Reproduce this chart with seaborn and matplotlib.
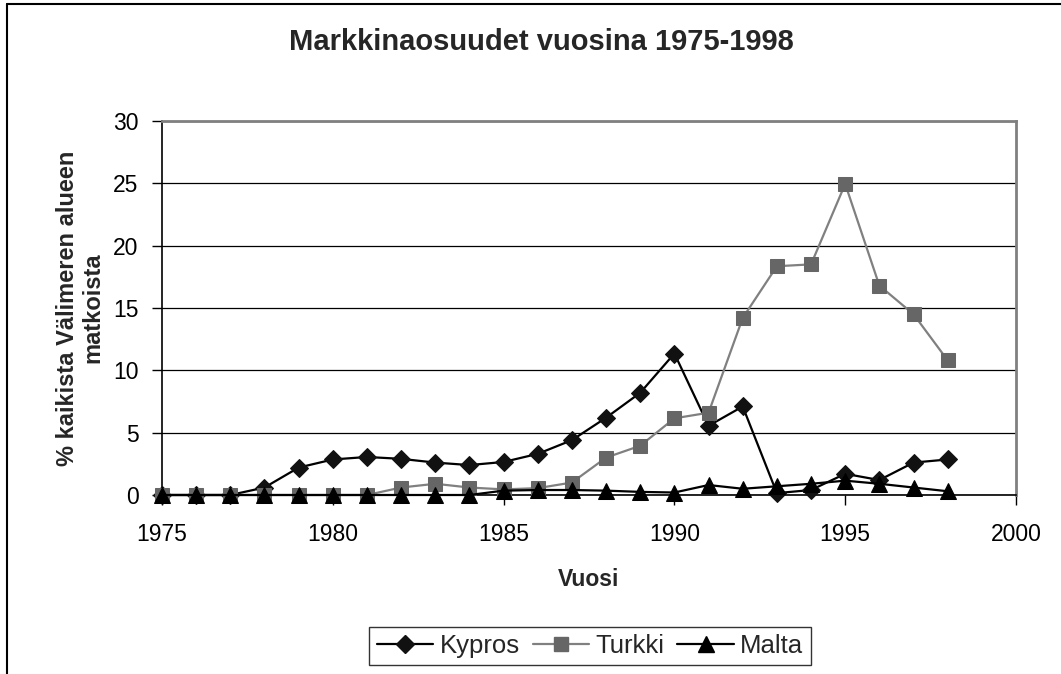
import matplotlib
matplotlib.use("Agg")
import matplotlib.pyplot as plt
from matplotlib.lines import Line2D
import seaborn as sns
import pandas as pd

years = list(range(1975, 1999))
kypros = [0, 0, 0, 0.6, 2.2, 2.85, 3.05, 2.9, 2.6, 2.4, 2.65, 3.3,
          4.4, 6.2, 8.2, 11.35, 5.55, 7.1, 0.15, 0.4, 1.7, 1.2, 2.6, 2.85]
turkki = [0, 0, 0, 0, 0, 0, 0, 0.6, 0.9, 0.6, 0.45, 0.55,
          1.0, 3.0, 3.95, 6.15, 6.6, 14.2, 18.35, 18.5, 24.95, 16.8, 14.5, 10.8]
malta = [0, 0, 0, 0, 0, 0, 0, 0, 0, 0, 0.35, 0.4,
         0.4, 0.35, 0.25, 0.2, 0.8, 0.5, 0.7, 0.9, 1.15, 0.9, 0.6, 0.3]
series_names = ["Kypros", "Turkki", "Malta"]
x_ticks = [1975, 1980, 1985, 1990, 1995, 2000]
y_ticks = [0, 5, 10, 15, 20, 25, 30]

sns.set_theme(style="white")
plt.rcParams["font.family"] = ["Liberation Sans", "DejaVu Sans"]

df = pd.DataFrame({"Vuosi": years, "Kypros": kypros, "Turkki": turkki, "Malta": malta})

fig = plt.figure(figsize=(10.61, 6.74), dpi=100)
ax = fig.add_axes([162 / 1061, 1 - 495 / 674, (1016 - 162) / 1061, (495 - 121) / 674])

styles = {
    "Kypros": dict(color="black", marker="D", markersize=9, mfc="#111111", mec="#111111"),
    "Turkki": dict(color="#808080", marker="s", markersize=9.5, mfc="#666666", mec="#666666"),
    "Malta": dict(color="black", marker="^", markersize=11, mfc="black", mec="black"),
}

for name in series_names:
    st = styles[name]
    sns.lineplot(data=df, x="Vuosi", y=name, ax=ax, color=st["color"], linewidth=1.6,
                 marker=st["marker"], markersize=st["markersize"],
                 markerfacecolor=st["mfc"], markeredgecolor=st["mec"],
                 clip_on=False, zorder=3, label=name, legend=False)

ax.set_xlim(1975, 2000)
ax.set_ylim(0, 30)
ax.set_xticks(x_ticks)
ax.set_yticks(y_ticks)
ax.tick_params(axis="both", labelsize=16.5, colors="black", length=7, width=1,
               direction="out", bottom=True, left=True)
ax.tick_params(axis="x", pad=13)
ax.tick_params(axis="y", pad=10)
ax.yaxis.grid(True, color="black", linewidth=0.9)
ax.xaxis.grid(False)
ax.set_axisbelow(True)

for side in ["top", "right"]:
    ax.spines[side].set_color("#808080")
    ax.spines[side].set_linewidth(2)
for side in ["left", "bottom"]:
    ax.spines[side].set_color("black")
    ax.spines[side].set_linewidth(1.2)

ax.set_xlabel("Vuosi", fontsize=16.5, fontweight="bold", labelpad=16)
ax.set_ylabel("% kaikista Välimeren alueen\nmatkoista", fontsize=17, fontweight="bold",
              labelpad=6, linespacing=1.15)

fig.text(541 / 1061, 1 - 42 / 674, "Markkinaosuudet vuosina 1975-1998",
         ha="center", va="center", fontsize=21, fontweight="bold")

handles = [Line2D([], [], color=styles[n]["color"], linewidth=1.6, marker=styles[n]["marker"],
                  markersize=styles[n]["markersize"], markerfacecolor=styles[n]["mfc"],
                  markeredgecolor=styles[n]["mec"]) for n in series_names]
leg = fig.legend(handles, series_names, loc="center", bbox_to_anchor=(590 / 1061, 1 - 646 / 674),
                 ncol=3, fontsize=18.5, frameon=True, fancybox=False, edgecolor="black",
                 handlelength=2.2, handletextpad=0.25, columnspacing=0.5, borderpad=0.28,
                 borderaxespad=0)
leg.get_frame().set_linewidth(1)

# outer chart frame (left and top edges)
fig.add_artist(Line2D([7 / 1061, 7 / 1061], [0, 1 - 4 / 674], color="black", linewidth=1.5,
                      transform=fig.transFigure))
fig.add_artist(Line2D([7 / 1061, 1], [1 - 4 / 674, 1 - 4 / 674], color="black", linewidth=1.5,
                      transform=fig.transFigure))

fig.savefig("out.png", dpi=100)
